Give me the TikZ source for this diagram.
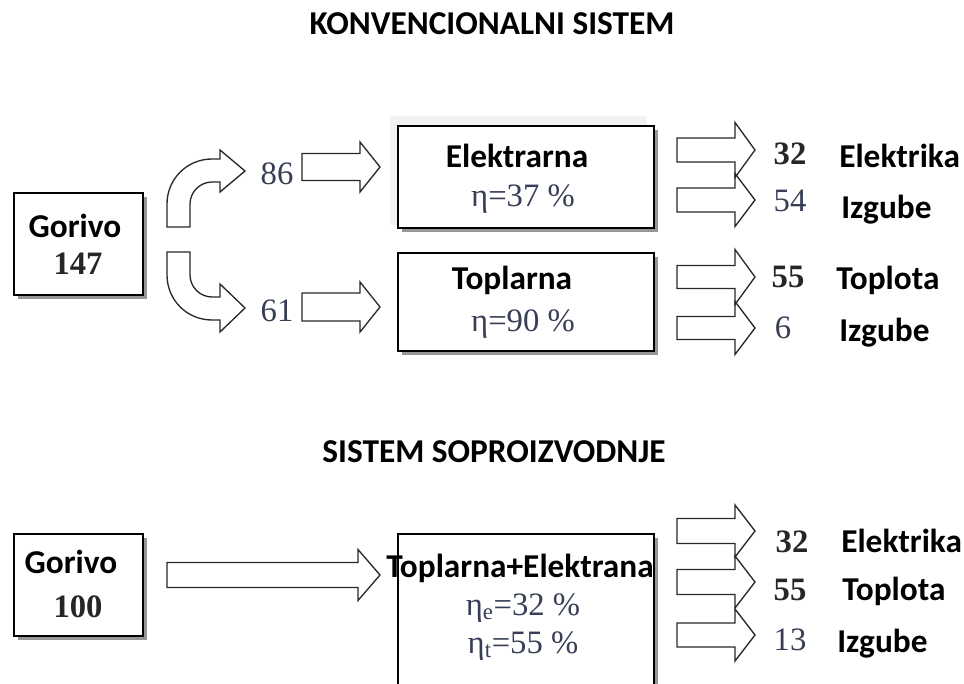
\documentclass[tikz,border=0pt]{standalone}
\usepackage{fontspec}
\setmainfont{Liberation Serif}
\newfontfamily\calib{Carlito}
\definecolor{numcol}{RGB}{55,62,85}
\definecolor{arrcol}{RGB}{40,40,40}
\definecolor{shadowcol}{RGB}{150,150,150}
\tikzset{
  box/.style={draw=black, line width=1.5pt, fill=white},
  shadowbox/.style={fill=shadowcol, draw=none},
  blockarr/.style={draw=arrcol, line width=1pt, line join=miter},
  lab/.style={font=\calib\fontsize{25pt}{29pt}\selectfont\bfseries, inner sep=0pt, text=black},
  num/.style={font=\fontsize{24.5pt}{28pt}\selectfont, inner sep=0pt, text=numcol},
  bnum/.style={font=\fontsize{24.5pt}{28pt}\selectfont\bfseries, inner sep=0pt, text=black!85},
}
\newcommand{\barrow}[6]{% x1, x2(head base), xtip, yc, shaft half, head half
  \draw[blockarr] (#1,#4-#5) -- (#2,#4-#5) -- (#2,#4-#6) -- (#3,#4) -- (#2,#4+#6) -- (#2,#4+#5) -- (#1,#4+#5) -- cycle;}
\begin{document}
\begin{tikzpicture}[x=0.75pt,y=-0.75pt]
\useasboundingbox (0,0) rectangle (964,684);
\clip (0,0) rectangle (964,684);
\fill[white] (0,0) rectangle (964,684);

% titles
\node[lab, anchor=base] (t1) at (492,35) {KONVENCIONALNI SISTEM};
\node[lab, anchor=base] (t2) at (494,462) {SISTEM SOPROIZVODNJE};

% ---------- conventional system ----------
\fill[shadowbox] (18,197) rectangle (147,299);
\node[box, minimum width=129*0.75pt, minimum height=102*0.75pt, anchor=north west] (g1) at (13,192) {};
\node[lab, anchor=base] (g1a) at (75,238) {Gorivo};
\node[bnum, anchor=base] (g1b) at (78,275) {147};

% curved arrows
\draw[blockarr] (167,227) -- (167,204) .. controls (167,179) and (187,159) .. (212,159) -- (220,159) -- (220,150) -- (245,171) -- (220,192) -- (220,182) -- (212,182) .. controls (200,182) and (190,192) .. (190,204) -- (190,227) -- cycle;
\draw[blockarr] (167,252) -- (167,275) .. controls (167,300) and (187,320) .. (212,320) -- (220,320) -- (220,332) -- (245,308) -- (220,284) -- (220,297) -- (212,297) .. controls (200,297) and (190,287) .. (190,275) -- (190,252) -- cycle;

\node[num, anchor=base] (n86) at (277,185) {86};
\node[num, anchor=base] (n61) at (277,322) {61};

\barrow{302}{360}{380}{167}{13.5}{25}
\barrow{302}{360}{380}{307}{14}{25}

% Elektrarna
\fill[gray!10] (390,116) rectangle (647,225);
\fill[shadowbox] (402,130) rectangle (658,232);
\node[box, minimum width=256*0.75pt, minimum height=102*0.75pt, anchor=north west] (el) at (397,125) {};
\node[lab, anchor=base] (ela) at (517,168) {Elektrarna};
\node[num, anchor=base] (elb) at (523,207) {η=37 \%};

% Toplarna
\fill[shadowbox] (402,257) rectangle (658,355);
\node[box, minimum width=256*0.75pt, minimum height=98*0.75pt, anchor=north west] (tp) at (397,252) {};
\node[lab, anchor=base] (tpa) at (512,290) {Toplarna};
\node[num, anchor=base] (tpb) at (523,332) {η=90 \%};

% outputs
\barrow{677}{735}{755}{150}{12}{27.5}
\barrow{677}{735}{755}{200}{12}{26.5}
\barrow{677}{735}{755}{277}{11.5}{27.5}
\barrow{677}{735}{755}{328}{11.5}{26.5}

\node[bnum, anchor=base] (o1) at (790,165) {32};
\node[lab, anchor=base west] (o1l) at (839,168) {Elektrika};
\node[num, anchor=base] (o2) at (790,212) {54};
\node[lab, anchor=base west] (o2l) at (841,219) {Izgube};
\node[bnum, anchor=base] (o3) at (788,288) {55};
\node[lab, anchor=base west] (o3l) at (836,290) {Toplota};
\node[num, anchor=base] (o4) at (783,339) {6};
\node[lab, anchor=base west] (o4l) at (839,342) {Izgube};

% ---------- cogeneration ----------
\fill[shadowbox] (18,538) rectangle (147,640);
\node[box, minimum width=129*0.75pt, minimum height=102*0.75pt, anchor=north west] (g2) at (13,533) {};
\node[lab, anchor=base] (g2a) at (71,573) {Gorivo};
\node[bnum, anchor=base] (g2b) at (78,617) {100};

\barrow{167}{358}{380}{575}{12.5}{25.5}

\fill[shadowbox] (402,538) rectangle (658,700);
\node[box, minimum width=256*0.75pt, minimum height=170*0.75pt, anchor=north west] (co) at (397,533) {};
\node[lab, anchor=base] (coa) at (520,577) {Toplarna+Elektrana};
\node[num, anchor=base] (cob) at (523,615) {η\textsubscript{e}=32 \%};
\node[num, anchor=base] (coc) at (523,653) {η\textsubscript{t}=55 \%};

\barrow{677}{735}{755}{531}{12.5}{26}
\barrow{677}{735}{755}{582}{12.5}{26}
\barrow{677}{735}{755}{635}{12}{26}

\node[bnum, anchor=base] (p1) at (792,552) {32};
\node[lab, anchor=base west] (p1l) at (841,552) {Elektrika};
\node[bnum, anchor=base] (p2) at (790,600) {55};
\node[lab, anchor=base west] (p2l) at (842,600) {Toplota};
\node[num, anchor=base] (p3) at (790,650) {13};
\node[lab, anchor=base west] (p3l) at (837,652) {Izgube};
\end{tikzpicture}
\end{document}
